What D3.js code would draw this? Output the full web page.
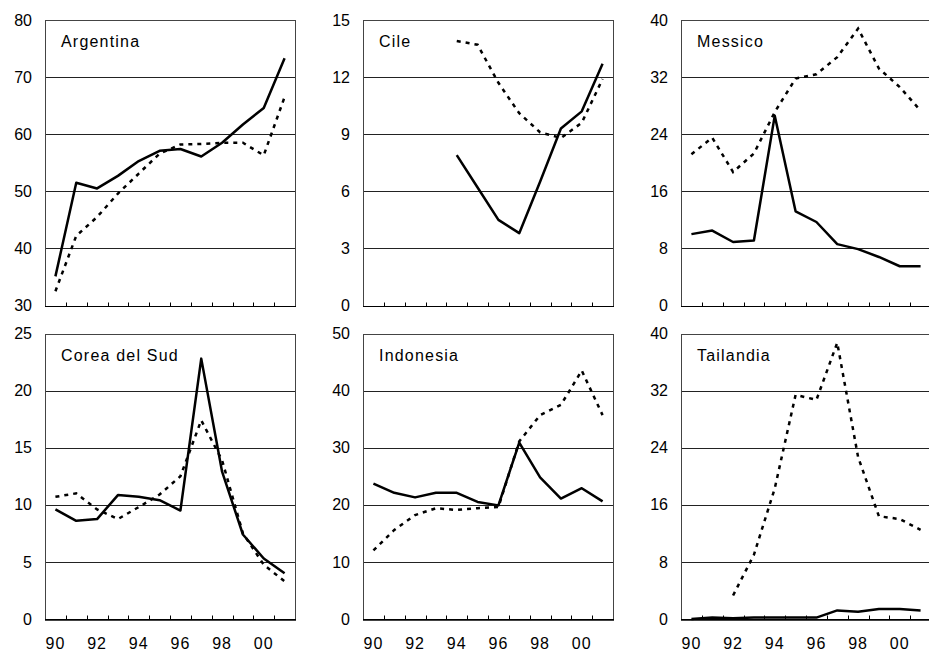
<!DOCTYPE html>
<html>
<head>
<meta charset="utf-8">
<script src="https://cdn.jsdelivr.net/npm/d3@7"></script>
<style>
  body { margin: 0; background: #fff; }
  svg { display: block; font-family: "Liberation Sans", Arial, sans-serif; }
</style>
</head>
<body>
<div id="chart"></div>
<script>
// Years on the x axis (1990 - 2001)
const years = ["90", "91", "92", "93", "94", "95", "96", "97", "98", "99", "00", "01"];
const yearLabels = ["90", "92", "94", "96", "98", "00"];

// Panel titles and y-axis ticks
const countries = ["Argentina", "Cile", "Messico", "Corea del Sud", "Indonesia", "Tailandia"];
const yTicks = [
  [30, 40, 50, 60, 70, 80],
  [0, 3, 6, 9, 12, 15],
  [0, 8, 16, 24, 32, 40],
  [0, 5, 10, 15, 20, 25],
  [0, 10, 20, 30, 40, 50],
  [0, 8, 16, 24, 32, 40]
];

// Solid series
const argentinaSolid = [35.1, 51.5, 50.5, 52.7, 55.3, 57.1, 57.4, 56.1, 58.5, 61.7, 64.6, 73.3];
const cileSolid = [null, null, null, null, 7.9, 6.2, 4.5, 3.8, 6.5, 9.3, 10.2, 12.7];
const messicoSolid = [10.0, 10.5, 8.9, 9.1, 26.6, 13.2, 11.7, 8.6, 7.9, 6.8, 5.5, 5.5];
const coreaSolid = [9.6, 8.6, 8.75, 10.85, 10.7, 10.4, 9.5, 22.8, 12.9, 7.4, 5.3, 4.0];
const indonesiaSolid = [23.7, 22.1, 21.3, 22.1, 22.1, 20.5, 19.9, 30.9, 24.8, 21.1, 22.9, 20.6];
const tailandiaSolid = [0, 0.2, 0.1, 0.2, 0.2, 0.2, 0.2, 1.2, 1.0, 1.4, 1.4, 1.2];

// Dashed series
const argentinaDash = [32.5, 42.2, 45.5, 49.6, 53.1, 56.6, 58.2, 58.3, 58.5, 58.5, 56.3, 66.5];
const cileDash = [null, null, null, null, 13.9, 13.7, 11.7, 10.1, 9.1, 8.8, 9.6, 11.9];
const messicoDash = [21.2, 23.5, 18.7, 21.3, 27.1, 31.8, 32.4, 34.8, 38.8, 33.2, 30.6, 27.3];
const coreaDash = [10.7, 11.0, 9.6, 8.75, 9.8, 10.9, 12.5, 17.4, 13.9, 7.5, 4.75, 3.3];
const indonesiaDash = [12.0, 15.6, 18.2, 19.4, 19.1, 19.4, 19.6, 31.1, 35.7, 37.5, 43.5, 35.7];
const tailandiaDash = [null, null, 3.3, 9.0, 18.3, 31.4, 30.7, 38.7, 22.7, 14.4, 14.0, 12.5];

const solidSeries = [argentinaSolid, cileSolid, messicoSolid, coreaSolid, indonesiaSolid, tailandiaSolid];
const dashSeries = [argentinaDash, cileDash, messicoDash, coreaDash, indonesiaDash, tailandiaDash];

// Layout
const width = 929;
const height = 653;
const colLeft = [45, 363, 681];
const rowTop = [20, 333.5];
const panelWidth = 250;
const panelHeight = 285.5;
const font = "Liberation Sans, Arial, sans-serif";

const svg = d3.create("svg")
  .attr("width", width)
  .attr("height", height)
  .attr("viewBox", [0, 0, width, height]);

d3.select("#chart").append(() => svg.node());

countries.forEach((name, i) => {
  const left = colLeft[i % 3];
  const top = rowTop[Math.floor(i / 3)];
  const ticks = yTicks[i];
  const bottomRow = i >= 3;

  const x = d3.scaleBand(years, [left, left + panelWidth]);
  const y = d3.scaleLinear([ticks[0], ticks[ticks.length - 1]], [top + panelHeight, top]);

  const g = svg.append("g");

  // Grid lines
  g.append("g")
    .selectAll("line")
    .data(ticks.slice(1, -1))
    .join("line")
      .attr("x1", left)
      .attr("x2", left + panelWidth)
      .attr("y1", d => Math.round(y(d)) + 0.5)
      .attr("y2", d => Math.round(y(d)) + 0.5)
      .attr("stroke", "#222")
      .attr("stroke-width", 1);

  // Frame
  g.append("rect")
    .attr("x", left + 0.5)
    .attr("y", Math.round(top) + 0.5)
    .attr("width", panelWidth)
    .attr("height", Math.round(panelHeight))
    .attr("fill", "none")
    .attr("stroke", "#444")
    .attr("stroke-width", 1);

  // Bottom axis line and inward ticks between categories
  const yBase = Math.round(y(ticks[0])) + 0.5;
  g.append("line")
    .attr("x1", left)
    .attr("x2", left + panelWidth + 1)
    .attr("y1", yBase)
    .attr("y2", yBase)
    .attr("stroke", "#000");

  g.append("g")
    .selectAll("line")
    .data(years.slice(1))
    .join("line")
      .attr("x1", d => Math.round(x(d)) + 0.5)
      .attr("x2", d => Math.round(x(d)) + 0.5)
      .attr("y1", yBase)
      .attr("y2", yBase - 4)
      .attr("stroke", "#000");

  // Y axis labels
  g.append("g")
    .attr("transform", `translate(${left},0)`)
    .call(d3.axisLeft(y).tickValues(ticks).tickSize(0).tickPadding(13))
    .call(g => g.select(".domain").remove())
    .call(g => g.selectAll("text")
      .attr("font-size", 16)
      .attr("font-family", font)
      .attr("fill", "#000"));

  // X axis labels (bottom row only)
  if (bottomRow) {
    g.append("g")
      .attr("transform", `translate(0,${yBase})`)
      .call(d3.axisBottom(x).tickValues(yearLabels).tickSize(0).tickPadding(18))
      .call(g => g.select(".domain").remove())
      .call(g => g.selectAll("text")
        .attr("font-size", 16)
        .attr("letter-spacing", 1)
        .attr("font-family", font)
        .attr("fill", "#000"));
  }

  // Lines
  const line = d3.line()
    .defined(d => d != null)
    .x((d, j) => x(years[j]) + x.bandwidth() / 2)
    .y(d => y(d));

  g.append("path")
    .attr("d", line(dashSeries[i]))
    .attr("fill", "none")
    .attr("stroke", "#000")
    .attr("stroke-width", 2.5)
    .attr("stroke-dasharray", "4,5");

  g.append("path")
    .attr("d", line(solidSeries[i]))
    .attr("fill", "none")
    .attr("stroke", "#000")
    .attr("stroke-width", 2.5)
    .attr("stroke-linejoin", "round");

  // Panel title
  g.append("text")
    .attr("x", left + 16)
    .attr("y", top + 27)
    .attr("font-size", 16)
    .attr("letter-spacing", 1.2)
    .attr("font-family", font)
    .attr("fill", "#000")
    .text(name);
});
</script>
</body>
</html>
